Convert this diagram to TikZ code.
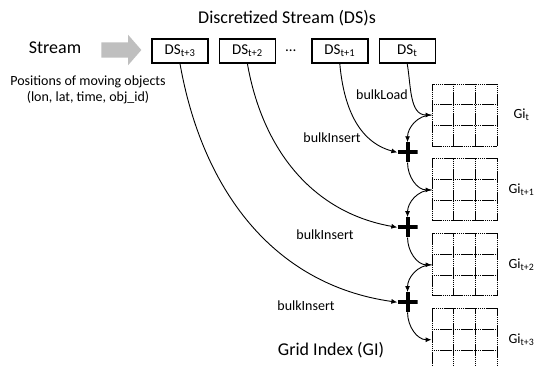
\documentclass[tikz,border=0pt]{standalone}
\usepackage{fontspec}
\setmainfont{Carlito}
\usepackage{xcolor}
\definecolor{cFeed}{HTML}{BFBFBF}
\usepackage{tikz}
\usetikzlibrary{positioning,arrows.meta,calc,shapes.arrows}
\tikzset{
  ds-box/.style={draw,line width=1.4pt,minimum width=56pt,minimum height=24pt,
    inner sep=0pt,font=\fontsize{15}{17}\selectfont},
  gi-grid/.style={draw,line width=0.9pt,dash pattern=on 1.6pt off 0.5pt,
    minimum width=65pt,minimum height=62pt,inner sep=0pt},
  gi-line/.style={line width=0.9pt,dash pattern=on 1.6pt off 0.5pt},
  gi-label/.style={font=\fontsize{14}{16}\selectfont},
  op-plus/.style={minimum size=20pt,inner sep=0pt,
    path picture={\draw[line width=4pt]
      (path picture bounding box.west) -- (path picture bounding box.east)
      (path picture bounding box.north) -- (path picture bounding box.south);}},
  op-label/.style={font=\fontsize{14}{16}\selectfont},
  big-text/.style={font=\fontsize{18}{20}\selectfont},
  feed/.style={single arrow,fill=cFeed,inner sep=7.5pt,minimum height=40pt,
    single arrow head extend=7.5pt,single arrow tip angle=98},
  arrow/.style={-{Latex[length=6pt,width=5pt]},line width=0.9pt},
}
\begin{document}
\begin{tikzpicture}[x=1pt,y=-1pt]
  \useasboundingbox (0,0) rectangle (535,365);
  % stream input
  \node[big-text] (title) at (287,18) {Discretized Stream (DS)s};
  \node[big-text] (stream) at (55,48) {Stream};
  \node[feed] (arr) at (118,50) {};
  \node[op-label,align=center] (pos) at (88,90) {Positions of moving objects\\(lon, lat, time, obj\_id)};
  % discretized batches
  \node[ds-box] (ds3) at (180,51) {DS\textsubscript{t+3}};
  \node[ds-box,right=10pt of ds3] (ds2) {DS\textsubscript{t+2}};
  \node[font=\fontsize{15}{17}\selectfont,right=6pt of ds2] (dots) {\ldots};
  \node[ds-box,right=35pt of ds2] (ds1) {DS\textsubscript{t+1}};
  \node[ds-box,right=10pt of ds1] (ds0) {DS\textsubscript{t}};
  % grid indexes
  \node[gi-grid] (gi0) at (464.5,115) {};
  \node[gi-grid,below=12pt of gi0] (gi1) {};
  \node[gi-grid,below=12pt of gi1] (gi2) {};
  \node[gi-grid,below=12pt of gi2] (gi3) {};
  \foreach \g in {gi0,gi1,gi2,gi3}{
    \foreach \k in {1,2}{
      \draw[gi-line] ($(\g.north west)!\k/3!(\g.north east)$) -- ($(\g.south west)!\k/3!(\g.south east)$);
      \draw[gi-line] ($(\g.north west)!\k/3!(\g.south west)$) -- ($(\g.north east)!\k/3!(\g.south east)$);
    }
  }
  \node[gi-label] (lb0) at ($(gi0.east)+(24,0)$) {Gi\textsubscript{t}};
  \node[gi-label] (lb1) at ($(gi1.east)+(24,0)$) {Gi\textsubscript{t+1}};
  \node[gi-label] (lb2) at ($(gi2.east)+(24,0)$) {Gi\textsubscript{t+2}};
  \node[gi-label] (lb3) at ($(gi3.east)+(24,0)$) {Gi\textsubscript{t+3}};
  \node[big-text] (gi) at (331,350) {Grid Index (GI)};
  % merge operators
  \node[op-plus] (op1) at ($(gi0.south west)!0.5!(gi1.north west)+(-24,0)$) {};
  \node[op-plus] (op2) at ($(gi1.south west)!0.5!(gi2.north west)+(-24,0)$) {};
  \node[op-plus] (op3) at ($(gi2.south west)!0.5!(gi3.north west)+(-24,0)$) {};
  % flows
  \draw[arrow] (ds0.south) to[out=-80,in=180] (gi0.west);
  \draw[arrow] (gi0.west) to[out=180,in=90] (op1.north);
  \draw[arrow] (op1.south) to[out=-90,in=180] (gi1.west);
  \draw[arrow] (gi1.west) to[out=180,in=90] (op2.north);
  \draw[arrow] (op2.south) to[out=-90,in=180] (gi2.west);
  \draw[arrow] (gi2.west) to[out=180,in=90] (op3.north);
  \draw[arrow] (op3.south) to[out=-90,in=180] (gi3.west);
  \draw[arrow] (ds1.south) to[out=-85,in=165] (op1.west);
  \draw[arrow] (ds2.south) to[out=-80,in=170] (op2.west);
  \draw[arrow] (ds3.south) to[out=-80,in=172] (op3.west);
  \node[op-label] (load) at (382,95) {bulkLoad};
  \node[op-label] (ins1) at (332,138) {bulkInsert};
  \node[op-label] (ins2) at (325,235) {bulkInsert};
  \node[op-label] (ins3) at (306,306) {bulkInsert};
\end{tikzpicture}
\end{document}
